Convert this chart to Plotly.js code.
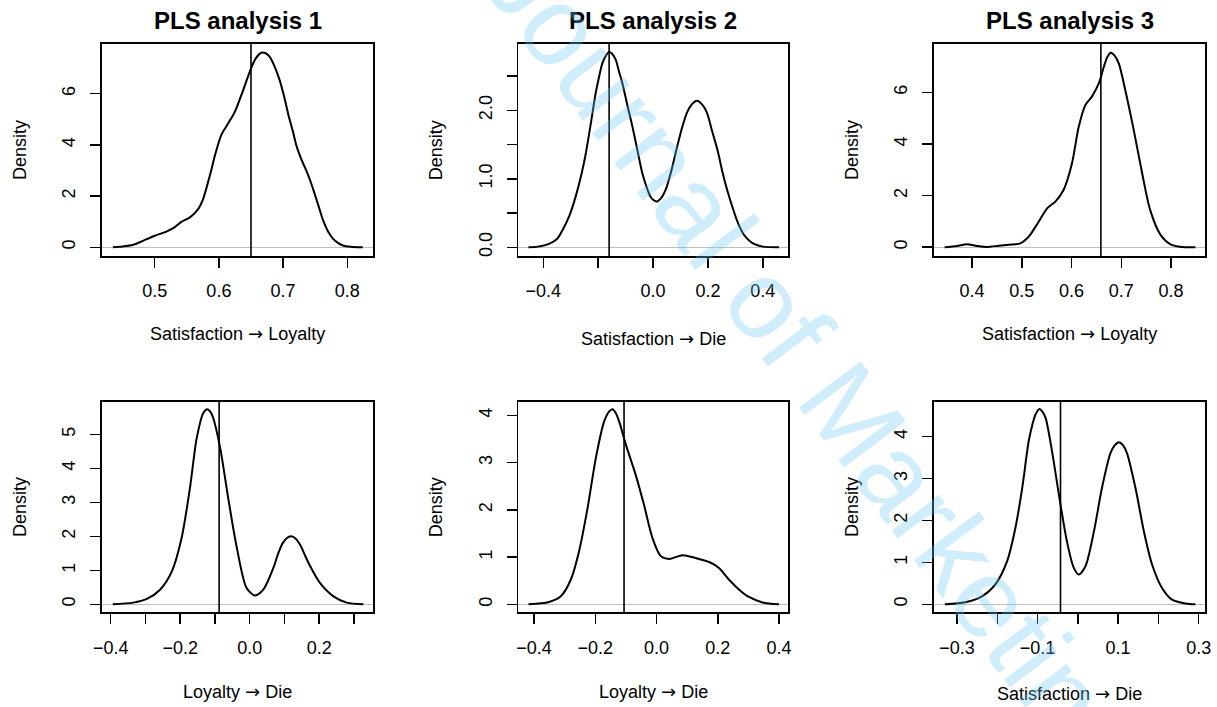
<!DOCTYPE html>
<html>
<head>
<meta charset="utf-8">
<script src="https://cdn.plot.ly/plotly-3.0.1.min.js"></script>
<style>html,body{margin:0;padding:0;background:#fff;}#chart{width:1217px;height:707px;}</style>
</head>
<body>
<div id="chart"></div>
<script>
// ---------- data ----------
const panelTitles = ['PLS analysis 1', 'PLS analysis 2', 'PLS analysis 3'];
const ARROW = '<span style="font-family:DejaVu Sans">\u2192</span>';
const xTitles = ['Satisfaction ' + ARROW + ' Loyalty', 'Satisfaction ' + ARROW + ' Die', 'Satisfaction ' + ARROW + ' Loyalty',
                 'Loyalty ' + ARROW + ' Die', 'Loyalty ' + ARROW + ' Die', 'Satisfaction ' + ARROW + ' Die'];
const yTitle = 'Density';

// observed estimates (vertical lines)
const observed = [0.650, -0.160, 0.659, -0.088, -0.106, -0.043];

// density curves
const p1x = [0.435,0.45,0.467,0.482,0.5,0.519,0.532,0.542,0.555,0.568,0.575,0.581,0.588,0.594,0.604,0.6145,0.625,0.638,0.651,0.658,0.666,0.673,0.679,0.687,0.695,0.702,0.708,0.715,0.721,0.729,0.736,0.743,0.749,0.756,0.762,0.770,0.778,0.786,0.793,0.805,0.824];
const p1y = [0,0.03,0.10,0.25,0.45,0.62,0.80,1.0,1.17,1.50,1.85,2.35,3.0,3.6,4.40,4.84,5.30,6.15,7.05,7.40,7.60,7.58,7.45,7.05,6.50,5.85,5.20,4.55,3.95,3.40,3.00,2.55,2.10,1.55,1.07,0.62,0.33,0.16,0.07,0.02,0];

const p2x = [-0.454,-0.42,-0.379,-0.35,-0.33,-0.305,-0.282,-0.26,-0.245,-0.225,-0.209,-0.195,-0.1845,-0.17,-0.16,-0.15,-0.136,-0.125,-0.112,-0.095,-0.075,-0.055,-0.039,-0.02,-0.008,0.005,0.016,0.03,0.048,0.067,0.085,0.104,0.123,0.14,0.16,0.18,0.197,0.215,0.235,0.253,0.27,0.29,0.308,0.33,0.35,0.37,0.40,0.459];
const p2y = [0,0.01,0.05,0.12,0.25,0.46,0.74,1.08,1.37,1.85,2.25,2.52,2.69,2.81,2.85,2.83,2.74,2.58,2.40,2.10,1.76,1.38,1.08,0.84,0.73,0.68,0.67,0.72,0.86,1.12,1.42,1.72,1.96,2.08,2.14,2.08,1.96,1.70,1.42,1.10,0.84,0.58,0.37,0.19,0.10,0.045,0.01,0];

const p3x = [0.345,0.370,0.390,0.410,0.430,0.454,0.474,0.497,0.514,0.534,0.551,0.5675,0.584,0.601,0.6145,0.628,0.641,0.655,0.665,0.672,0.679,0.687,0.695,0.708,0.725,0.742,0.758,0.779,0.799,0.822,0.849];
const p3y = [0,0.05,0.115,0.05,0.01,0.06,0.10,0.15,0.41,0.99,1.51,1.77,2.22,3.26,4.67,5.52,5.84,6.36,7.0,7.38,7.54,7.42,7.13,6.10,4.55,2.87,1.45,0.48,0.115,0.01,0];

const p4x = [-0.394,-0.335,-0.296,-0.258,-0.224,-0.196,-0.172,-0.1525,-0.1335,-0.122,-0.113,-0.105,-0.085,-0.062,-0.037,-0.009,0.015,0.039,0.068,0.082,0.095,0.107,0.118,0.13,0.145,0.16,0.174,0.202,0.241,0.279,0.327];
const p4y = [0,0.05,0.16,0.43,0.97,1.95,3.42,4.89,5.63,5.74,5.66,5.48,4.60,3.13,1.66,0.48,0.26,0.43,1.07,1.50,1.80,1.95,2.0,1.95,1.75,1.42,1.12,0.63,0.235,0.05,0];

const p5x = [-0.418,-0.351,-0.3125,-0.280,-0.253,-0.225,-0.198,-0.171,-0.155,-0.144,-0.133,-0.122,-0.100,-0.068,-0.041,-0.013,0.014,0.041,0.085,0.128,0.172,0.204,0.237,0.270,0.302,0.346,0.400];
const p5y = [0,0.05,0.17,0.52,1.12,2.04,3.10,3.87,4.08,4.13,4.05,3.87,3.38,2.74,2.11,1.40,1.02,0.96,1.04,0.98,0.895,0.77,0.52,0.31,0.155,0.04,0];

const p6x = [-0.330,-0.279,-0.238,-0.205,-0.1755,-0.155,-0.138,-0.122,-0.113,-0.105,-0.095,-0.088,-0.080,-0.064,-0.047,-0.027,-0.010,0.0025,0.019,0.040,0.060,0.081,0.092,0.102,0.112,0.122,0.143,0.164,0.1845,0.209,0.234,0.267,0.292];
const p6y = [0,0.05,0.19,0.47,1.03,1.82,2.78,3.89,4.28,4.53,4.66,4.60,4.45,3.65,2.62,1.50,0.87,0.71,0.91,1.74,2.78,3.61,3.80,3.87,3.80,3.61,2.78,1.74,0.945,0.39,0.11,0.02,0];

// tick values and labels
const M = '\u2212';
const xTickVals = [
  [0.5,0.6,0.7,0.8],
  [-0.4,-0.2,0,0.2,0.4],
  [0.4,0.5,0.6,0.7,0.8],
  [-0.4,-0.3,-0.2,-0.1,0,0.1,0.2,0.3],
  [-0.4,-0.2,0,0.2,0.4],
  [-0.3,-0.2,-0.1,0,0.1,0.2,0.3]
];
const xTickText = [
  ['0.5','0.6','0.7','0.8'],
  [M+'0.4','','0.0','0.2','0.4'],
  ['0.4','0.5','0.6','0.7','0.8'],
  [M+'0.4','',M+'0.2','','0.0','','0.2',''],
  [M+'0.4',M+'0.2','0.0','0.2','0.4'],
  [M+'0.3','',M+'0.1','','0.1','','0.3']
];
const yTickVals = [
  [0,2,4,6],
  [0,0.5,1,1.5,2,2.5],
  [0,2,4,6],
  [0,1,2,3,4,5],
  [0,1,2,3,4],
  [0,1,2,3,4]
];
const yTickText = [
  ['0','2','4','6'],
  ['0.0','','1.0','','2.0',''],
  ['0','2','4','6'],
  ['0','1','2','3','4','5'],
  ['0','1','2','3','4'],
  ['0','1','2','3','4']
];
const watermark = 'Journal of Marketing';

// ---------- layout geometry (pixels of a 1217x707 page) ----------
const W = 1217, H = 707;
const boxes = [ // [left, right, top, bottom]
  [102, 373, 44, 256], [518.3, 788.3, 44, 256], [934, 1205, 44, 256],
  [102, 373, 401.7, 612.3], [518.3, 788.3, 401.7, 612.3], [934, 1205, 401.7, 612.3]
];
const xRanges = [[0.418,0.840],[-0.491,0.493],[0.3236,0.8683],[-0.425,0.3547],[-0.4513,0.4304],[-0.357,0.3157]];
const yRanges = [[-0.34,7.94],[-0.127,2.968],[-0.34,7.88],[-0.235,5.96],[-0.169,4.288],[-0.191,4.835]];
const xTitleY = [333.3, 338, 333.3, 691.7, 691.7, 693.3];

const curvesX = [p1x,p2x,p3x,p4x,p5x,p6x];
const curvesY = [p1y,p2y,p3y,p4y,p5y,p6y];

const FONT = 'Liberation Sans, Arial, Helvetica, sans-serif';
const traces = [];
const layout = {
  width: W, height: H,
  margin: {l:0, r:0, t:0, b:0},
  paper_bgcolor: '#ffffff', plot_bgcolor: '#ffffff',
  showlegend: false,
  font: {family: FONT, color: '#000000', size: 18},
  shapes: [], annotations: []
};

for (let i = 0; i < 6; i++) {
  const k = i + 1;
  const xa = k === 1 ? 'xaxis' : 'xaxis' + k;
  const ya = k === 1 ? 'yaxis' : 'yaxis' + k;
  const xr = k === 1 ? 'x' : 'x' + k;
  const yr = k === 1 ? 'y' : 'y' + k;
  const b = boxes[i];
  traces.push({
    type: 'scatter', mode: 'lines', x: curvesX[i], y: curvesY[i],
    xaxis: xr, yaxis: yr,
    line: {color: '#000000', width: 2, shape: 'spline', smoothing: 0.8},
    hoverinfo: 'skip'
  });
  layout[xa] = {
    domain: [b[0]/W, b[1]/W], range: xRanges[i], anchor: yr,
    showgrid: false, zeroline: false,
    showline: true, mirror: true, linecolor: '#000000', linewidth: 1.6,
    ticks: 'outside', ticklen: 10, tickwidth: 1.5, tickcolor: '#000000',
    tickmode: 'array', tickvals: xTickVals[i], ticktext: xTickText[i],
    tickfont: {family: FONT, size: 18, color: '#000000'},
    ticklabelstandoff: 8,
    fixedrange: true
  };
  layout[ya] = {
    domain: [1 - b[3]/H, 1 - b[2]/H], range: yRanges[i], anchor: xr,
    showgrid: false,
    zeroline: true, zerolinecolor: '#bebebe', zerolinewidth: 1,
    showline: true, mirror: true, linecolor: '#000000', linewidth: 1.6,
    ticks: 'outside', ticklen: 10, tickwidth: 1.5, tickcolor: '#000000',
    tickmode: 'array', tickvals: yTickVals[i], ticktext: yTickText[i],
    tickangle: -90,
    tickfont: {family: FONT, size: 18, color: '#000000'},
    ticklabelstandoff: 8,
    fixedrange: true
  };
  // observed value line
  layout.shapes.push({
    type: 'line', xref: xr, yref: yr + ' domain',
    x0: observed[i], x1: observed[i], y0: 0, y1: 1,
    line: {color: '#000000', width: 1.6}
  });
  // x axis title
  layout.annotations.push({
    text: xTitles[i], xref: 'paper', yref: 'paper',
    x: (b[0] + b[1]) / 2 / W, y: 1 - xTitleY[i] / H,
    xanchor: 'center', yanchor: 'middle', showarrow: false,
    font: {family: FONT, size: 18, color: '#000000'}
  });
  // y axis title
  layout.annotations.push({
    text: yTitle, xref: 'paper', yref: 'paper',
    x: (b[0] - 82) / W, y: 1 - (b[2] + b[3]) / 2 / H,
    xanchor: 'center', yanchor: 'middle', showarrow: false, textangle: -90,
    font: {family: FONT, size: 18, color: '#000000'}
  });
}
// panel titles
for (let j = 0; j < 3; j++) {
  const b = boxes[j];
  layout.annotations.push({
    text: '<b>' + panelTitles[j] + '</b>', xref: 'paper', yref: 'paper',
    x: (b[0] + b[1]) / 2 / W, y: 1 - 20.7 / H,
    xanchor: 'center', yanchor: 'middle', showarrow: false,
    font: {family: FONT, size: 24, color: '#000000'}
  });
}
// watermark
layout.annotations.push({
  text: watermark, xref: 'paper', yref: 'paper',
  x: 815 / W, y: 1 - 364 / H, xanchor: 'center', yanchor: 'middle',
  showarrow: false, textangle: 53,
  font: {family: FONT, size: 112, color: 'rgba(110,200,245,0.32)'}
});

Plotly.newPlot('chart', traces, layout, {staticPlot: true, displayModeBar: false});
</script>
</body>
</html>
